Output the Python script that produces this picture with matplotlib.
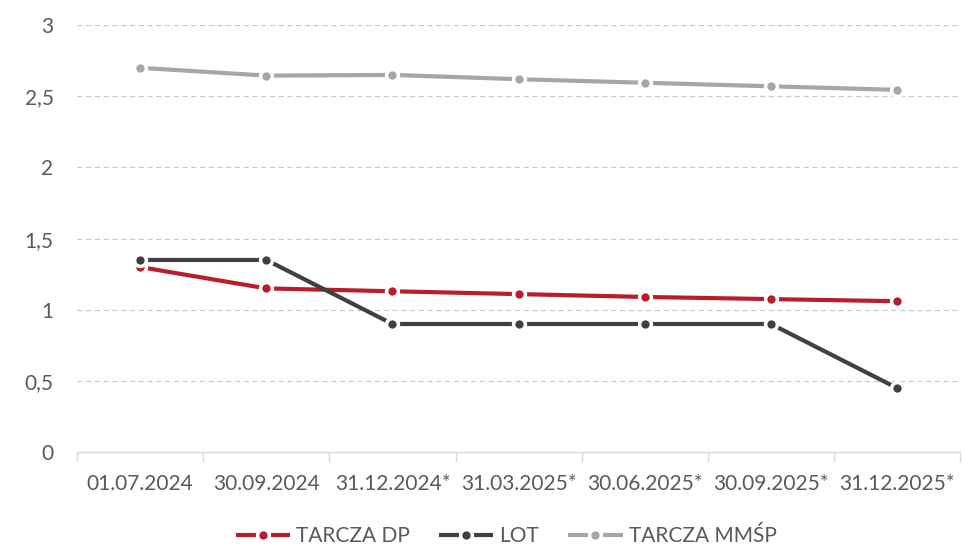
import matplotlib.pyplot as plt
from matplotlib.ticker import FixedLocator, NullFormatter

plt.rcParams['font.family'] = ['Lato', 'DejaVu Sans']

dates = ["01.07.2024", "30.09.2024", "31.12.2024*", "31.03.2025*",
         "30.06.2025*", "30.09.2025*", "31.12.2025*"]
tarcza_dp = [1.30, 1.15, 1.13, 1.11, 1.09, 1.075, 1.06]
lot = [1.35, 1.35, 0.90, 0.90, 0.90, 0.90, 0.45]
tarcza_mmsp = [2.70, 2.645, 2.65, 2.62, 2.595, 2.57, 2.545]

series = [("TARCZA DP", tarcza_dp, "#B91C2C"),
          ("LOT", lot, "#404040"),
          ("TARCZA MMŚP", tarcza_mmsp, "#A6A6A6")]

text_col = "#595959"
fs = 15

fig = plt.figure(figsize=(9.64, 5.46), dpi=100)
ax = fig.add_axes([0.08, 0.172, 0.916, 0.782])

x = list(range(len(dates)))
for name, vals, col in series:
    ax.plot(x, vals, color=col, lw=3, marker='o', ms=8.5,
            mfc=col, mec='white', mew=2.5, label=name, solid_capstyle='butt')

ax.set_xlim(-0.5, len(dates) - 0.5)
ax.set_ylim(0, 3)
ax.set_yticks([0, 0.5, 1, 1.5, 2, 2.5, 3])
ax.set_yticklabels(["0", "0,5", "1", "1,5", "2", "2,5", "3"])
for yv in [0.5, 1, 1.5, 2, 2.5, 3]:
    ax.axhline(yv, color="#C8C8C8", lw=0.9, ls=(0, (4, 3)), zorder=0)

ax.set_xticks(x)
ax.set_xticklabels(dates)
ax.xaxis.set_minor_locator(FixedLocator([i - 0.5 for i in range(len(dates) + 1)]))
ax.xaxis.set_minor_formatter(NullFormatter())
ax.tick_params(axis='x', which='major', length=0, pad=16, labelsize=fs, labelcolor=text_col)
ax.tick_params(axis='x', which='minor', length=7, color="#D9D9D9", width=1)
ax.tick_params(axis='y', length=0, pad=17, labelsize=fs, labelcolor=text_col)

for s in ['top', 'right', 'left']:
    ax.spines[s].set_visible(False)
ax.spines['bottom'].set_color("#D9D9D9")
ax.spines['bottom'].set_linewidth(1)

leg = fig.legend(loc='center', bbox_to_anchor=(0.525, 10 / 546), ncol=3,
                 frameon=False, fontsize=fs, handlelength=2.6, numpoints=1,
                 columnspacing=1.4, handletextpad=0.3, borderpad=0)
for t in leg.get_texts():
    t.set_color(text_col)

fig.savefig("out.png", dpi=100)
